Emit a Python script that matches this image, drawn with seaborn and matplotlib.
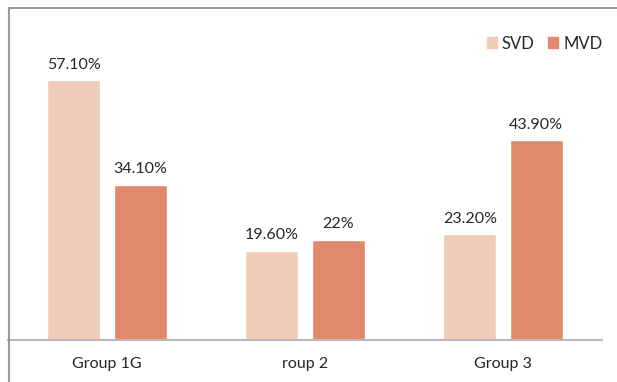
import matplotlib
matplotlib.use("Agg")
import matplotlib.pyplot as plt
import seaborn as sns
import pandas as pd
from matplotlib.lines import Line2D

categories = ["Group 1G", "roup 2", "Group 3"]
series = ["SVD", "MVD"]
svd_values = [57.1, 19.6, 23.2]
mvd_values = [34.1, 22.0, 43.9]
svd_labels = ["57.10%", "19.60%", "23.20%"]
mvd_labels = ["34.10%", "22%", "43.90%"]

df = pd.DataFrame({
    "group": categories * 2,
    "series": ["SVD"] * 3 + ["MVD"] * 3,
    "value": svd_values + mvd_values,
})

sns.set_theme(style="white")
plt.rcParams["font.family"] = ["Lato", "DejaVu Sans"]

W, H = 617, 382
fig = plt.figure(figsize=(W / 100, H / 100), dpi=100)
ax = fig.add_axes([8 / W, (H - 340) / H, (602 - 8) / W, (340 - 8) / H])

palette = {"SVD": "#F2CAB8", "MVD": "#E0896D"}
sns.barplot(data=df, x="group", y="value", hue="series", order=categories,
            hue_order=series, palette=palette, width=0.67, gap=0.2,
            saturation=1, ax=ax, legend=False)

ax.set_xlim(-0.5, 2.5)
ax.set_ylim(0, 72.9)

for cont, labs in zip(ax.containers, [svd_labels, mvd_labels]):
    ax.bar_label(cont, labels=labs, padding=6, fontsize=11.5, color="#262626")

for s in ["top", "right", "left"]:
    ax.spines[s].set_visible(False)
ax.spines["bottom"].set_color("#B8B8BF")
ax.spines["bottom"].set_linewidth(1.5)
ax.set_yticks([])
ax.set_xlabel("")
ax.set_ylabel("")
ax.tick_params(axis="x", length=0, pad=12, labelsize=11.5, labelcolor="#262626")

# chart area border (left and top visible)
fig.add_artist(Line2D([8.5 / W, 8.5 / W], [0, 1 - 8 / H], color="#9A9A9A", lw=1.5,
                      transform=fig.transFigure))
fig.add_artist(Line2D([8.5 / W, 1], [1 - 8 / H, 1 - 8 / H], color="#9A9A9A", lw=1.5,
                      transform=fig.transFigure))

handles = [plt.Rectangle((0, 0), 1, 1, color=palette[s]) for s in series]
ax.legend(handles, series, loc="upper right", bbox_to_anchor=(1.012, 0.937),
          ncol=2, frameon=False, fontsize=12, handlelength=0.62, handleheight=0.62,
          handletextpad=0.3, columnspacing=0.8, borderaxespad=0.0,
          labelcolor="#262626")

fig.savefig("out.png", dpi=100)
